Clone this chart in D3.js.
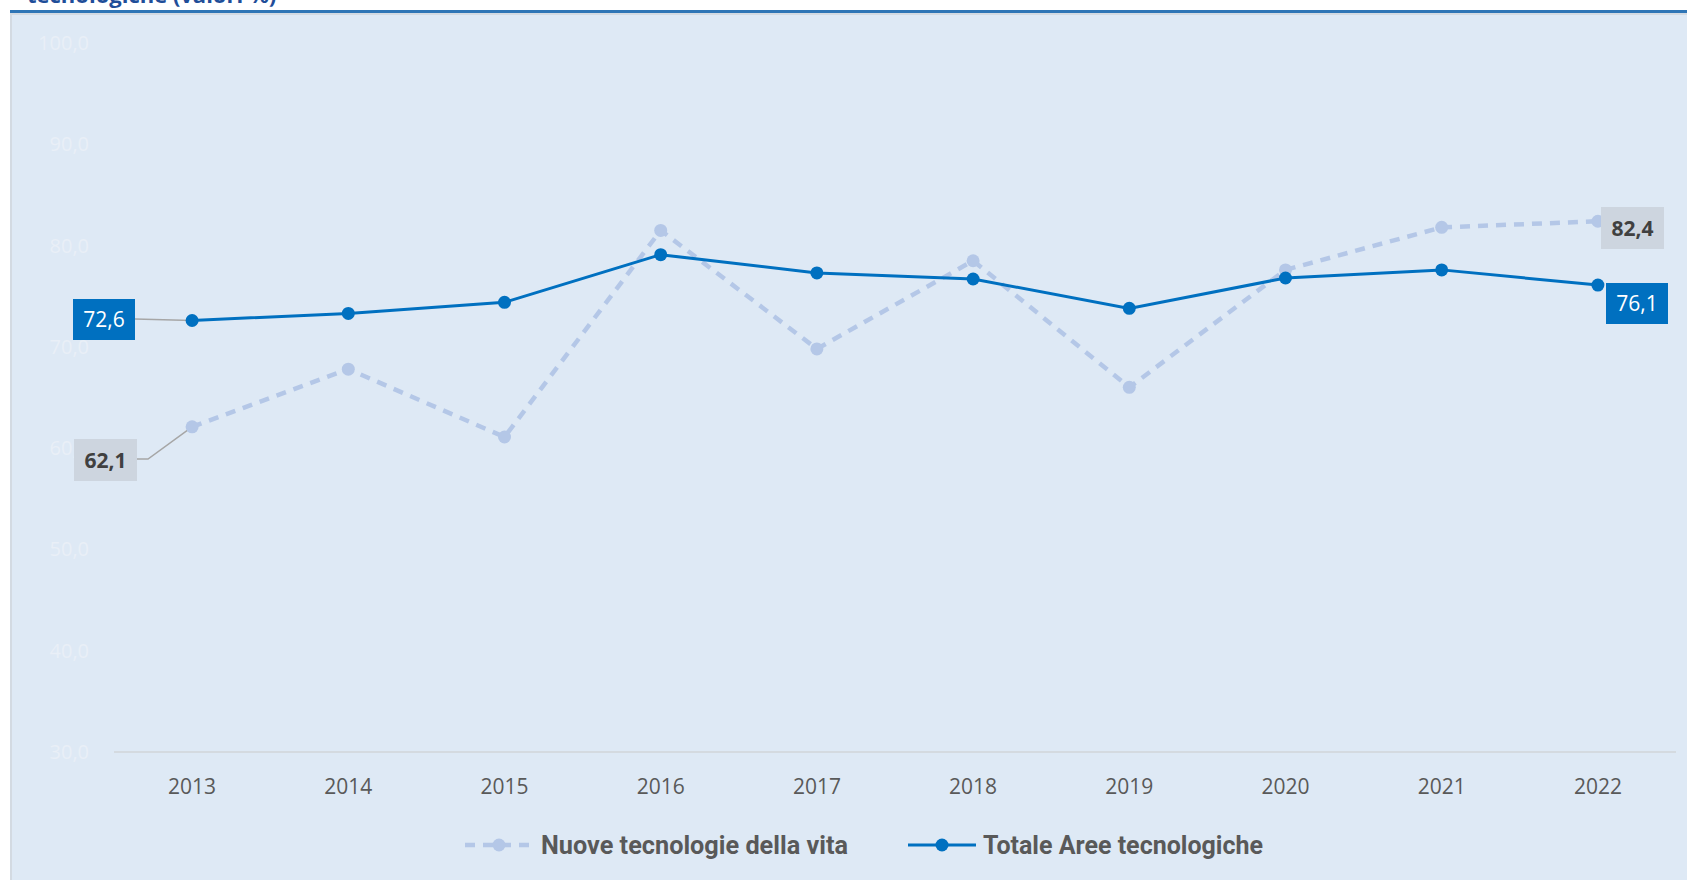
<!DOCTYPE html>
<html>
<head>
<meta charset="utf-8">
<script src="https://cdn.jsdelivr.net/npm/d3@7"></script>
<style>
  body { margin: 0; background: #ffffff; }
  svg { display: block; }
</style>
</head>
<body>
<script>
// Data
const years = ["2013", "2014", "2015", "2016", "2017", "2018", "2019", "2020", "2021", "2022"];
const nuove = [62.1, 67.8, 61.1, 81.5, 69.8, 78.5, 66.0, 77.6, 81.8, 82.4];
const totale = [72.6, 73.3, 74.4, 79.1, 77.3, 76.7, 73.8, 76.8, 77.6, 76.1];
const yTicks = [30, 40, 50, 60, 70, 80, 90, 100];
const seriesNames = ["Nuove tecnologie della vita", "Totale Aree tecnologiche"];

const w = 1687, h = 880;
const fmt = v => d3.format(".1f")(v).replace(".", ",");

const svg = d3.select("body").append("svg")
  .attr("width", w)
  .attr("height", h);

// title (cut at top of the frame)
svg.append("text")
  .attr("x", 27).attr("y", 3)
  .style("font-family", "'Open Sans', sans-serif")
  .style("font-weight", "bold")
  .style("font-size", "22px")
  .style("fill", "#1f4e99")
  .text("tecnologiche (valori %)");

// panel
svg.append("rect").attr("x", 10).attr("y", 13).attr("width", w - 10).attr("height", h - 13).style("fill", "#d3dae2");
svg.append("rect").attr("x", 12).attr("y", 15).attr("width", w - 12).attr("height", h - 15).style("fill", "#dee9f5");
svg.append("rect").attr("x", 10).attr("y", 10).attr("width", w - 10).attr("height", 3).style("fill", "#2e75b6");

// scales
const x = d3.scaleBand().domain(years).range([114, 1676]);
const cx = d => x(d) + x.bandwidth() / 2;
const y = d3.scaleLinear().domain([30, 100]).range([752, 43]);

// y labels (very faint)
svg.append("g")
  .selectAll("text")
  .data(yTicks)
  .join("text")
  .attr("x", 89)
  .attr("y", d => y(d))
  .attr("dy", "0.35em")
  .attr("text-anchor", "end")
  .style("font-family", "'Open Sans', sans-serif")
  .style("font-size", "20px")
  .style("fill", "#e9eff7")
  .text(d => fmt(d));

// baseline
svg.append("line")
  .attr("x1", 114).attr("x2", 1676)
  .attr("y1", y(30)).attr("y2", y(30))
  .style("stroke", "#d0d4d9")
  .style("stroke-width", 1.5);

// x axis labels
const xAxis = svg.append("g")
  .attr("transform", "translate(0," + 787 + ")")
  .call(d3.axisBottom(x).tickSize(0).tickPadding(0));
xAxis.select(".domain").remove();
xAxis.selectAll("text")
  .attr("dy", "0.35em")
  .style("font-family", "'Open Sans', sans-serif")
  .style("font-size", "21px")
  .style("fill", "#595959");

// leader lines for data labels
const leader = "#a6a6a6";
svg.append("path")
  .attr("d", "M135," + 319 + "L" + cx(years[0]) + "," + y(totale[0]))
  .style("stroke", leader).style("stroke-width", 1.5).style("fill", "none");
svg.append("path")
  .attr("d", "M137,459L148,459L" + cx(years[0]) + "," + y(nuove[0]))
  .style("stroke", leader).style("stroke-width", 1.5).style("fill", "none");

// lines
const line = d3.line().x((d, i) => cx(years[i])).y(d => y(d));

svg.append("path")
  .datum(nuove)
  .attr("d", line)
  .style("fill", "none")
  .style("stroke", "#b4c7e7")
  .style("stroke-width", 4.5)
  .style("stroke-dasharray", "10,8");

svg.append("g")
  .selectAll("circle")
  .data(nuove)
  .join("circle")
  .attr("cx", (d, i) => cx(years[i]))
  .attr("cy", d => y(d))
  .attr("r", 6.5)
  .style("fill", "#b4c7e7");

svg.append("path")
  .datum(totale)
  .attr("d", line)
  .style("fill", "none")
  .style("stroke", "#0070c0")
  .style("stroke-width", 3);

svg.append("g")
  .selectAll("circle")
  .data(totale)
  .join("circle")
  .attr("cx", (d, i) => cx(years[i]))
  .attr("cy", d => y(d))
  .attr("r", 6.5)
  .style("fill", "#0070c0");

// data label boxes
function label(bx, by, bw, bh, txt, fill, color, weight) {
  svg.append("rect")
    .attr("x", bx).attr("y", by).attr("width", bw).attr("height", bh)
    .style("fill", fill);
  svg.append("text")
    .attr("x", bx + bw / 2).attr("y", by + bh / 2)
    .attr("dy", "0.36em")
    .attr("text-anchor", "middle")
    .style("font-family", "'Open Sans', sans-serif")
    .style("font-size", "21px")
    .style("font-weight", weight)
    .style("fill", color)
    .text(txt);
}
label(73, 299, 62, 41, fmt(totale[0]), "#0070c0", "#ffffff", "normal");
label(74, 439, 63, 42, fmt(nuove[0]), "#cdd5df", "#404040", "bold");
label(1601, 207, 63, 42, fmt(nuove[9]), "#cdd5df", "#404040", "bold");
label(1606, 283, 62, 41, fmt(totale[9]), "#0070c0", "#ffffff", "normal");

// legend
const legend = svg.append("g").attr("id", "legend");
const lg = [
  { x1: 465, x2: 533, tx: 541, tw: 307, color: "#b4c7e7", dash: "10,8", sw: 4.5 },
  { x1: 908, x2: 976, tx: 983, tw: 280, color: "#0070c0", dash: null, sw: 3 }
];
lg.forEach((o, i) => {
  legend.append("line")
    .attr("x1", o.x1).attr("x2", o.x2).attr("y1", 845).attr("y2", 845)
    .style("stroke", o.color)
    .style("stroke-width", o.sw)
    .style("stroke-dasharray", o.dash);
  legend.append("circle")
    .attr("cx", (o.x1 + o.x2) / 2).attr("cy", 845).attr("r", 6.5)
    .style("fill", o.color);
  legend.append("text")
    .attr("x", o.tx).attr("y", 845).attr("dy", "0.35em")
    .attr("textLength", o.tw)
    .attr("lengthAdjust", "spacingAndGlyphs")
    .style("font-family", "'Liberation Sans Narrow', 'Roboto', sans-serif")
    .style("font-weight", "bold")
    .style("font-size", "25px")
    .style("fill", "#595959")
    .text(seriesNames[i]);
});
</script>
</body>
</html>
